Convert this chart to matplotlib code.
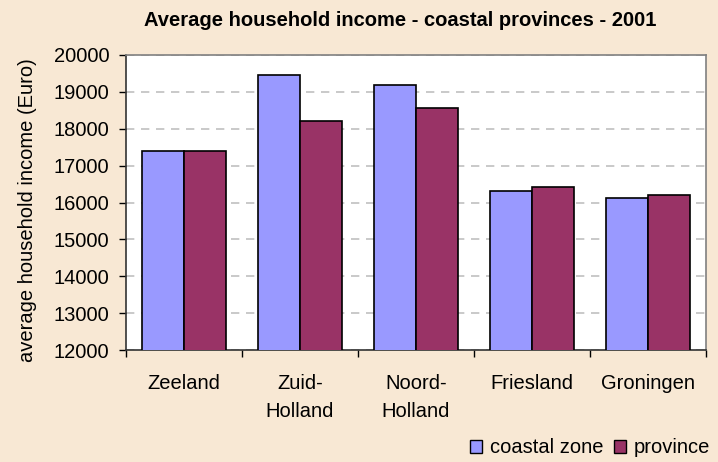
import numpy as np
import matplotlib.pyplot as plt
from matplotlib.patches import Patch

provinces = ["Zeeland", "Zuid-\nHolland", "Noord-\nHolland", "Friesland", "Groningen"]
coastal_zone = [17390, 19455, 19180, 16300, 16135]
province = [17390, 18210, 18575, 16410, 16190]
y_ticks = [12000, 13000, 14000, 15000, 16000, 17000, 18000, 19000, 20000]

bg = "#F8E8D4"
blue = "#9999FF"
purple = "#993366"

plt.rcParams["font.family"] = ["Liberation Sans", "DejaVu Sans"]

fig = plt.figure(figsize=(7.18, 4.62), dpi=100, facecolor=bg)
ax = fig.add_axes([126 / 718, 112 / 462, 580 / 718, 295 / 462])
ax.set_facecolor("white")

x = np.arange(len(provinces))
w = 0.36
ax.bar(x - w / 2, coastal_zone, w, color=blue, edgecolor="black", linewidth=1.2, zorder=3)
ax.bar(x + w / 2, province, w, color=purple, edgecolor="black", linewidth=1.2, zorder=3)

ax.set_xlim(-0.5, len(provinces) - 0.5)
ax.set_ylim(12000, 20000)
ax.set_yticks(y_ticks)
ax.tick_params(axis="y", labelsize=14.5, length=5, width=1, direction="out", pad=7)

# category labels centred, tick marks on the boundaries
ax.set_xticks(x)
ax.set_xticklabels(provinces, fontsize=14.5, linespacing=1.6)
ax.tick_params(axis="x", length=0, pad=17)
ax.set_xticks(np.arange(len(provinces) + 1) - 0.5, minor=True)
ax.tick_params(axis="x", which="minor", length=5, width=1, direction="out")

ax.yaxis.grid(True, color="#C0C0C0", linestyle=(0, (5, 4)), linewidth=1.2, zorder=0)
ax.set_axisbelow(True)

for s in ["top", "right"]:
    ax.spines[s].set_color("#808080")
    ax.spines[s].set_linewidth(1.2)
for s in ["left", "bottom"]:
    ax.spines[s].set_color("#333333")
    ax.spines[s].set_linewidth(1.2)

ax.set_ylabel("average household income (Euro)", fontsize=14.5)
ax.yaxis.set_label_coords(-0.153, 0.475)
fig.text(400 / 718, 1 - 20 / 462, "Average household income - coastal provinces - 2001",
         fontsize=14.5, fontweight="bold", ha="center", va="center")

handles = [Patch(facecolor=blue, edgecolor="black", label="coastal zone"),
           Patch(facecolor=purple, edgecolor="black", label="province")]
fig.legend(handles=handles, loc="lower right", bbox_to_anchor=(1.006, -0.016), ncol=2,
           frameon=False, fontsize=14.5, handlelength=0.6, handleheight=0.6,
           handletextpad=0.4, columnspacing=0.5, borderaxespad=0.2)

fig.savefig("out.png", dpi=100, facecolor=bg)
